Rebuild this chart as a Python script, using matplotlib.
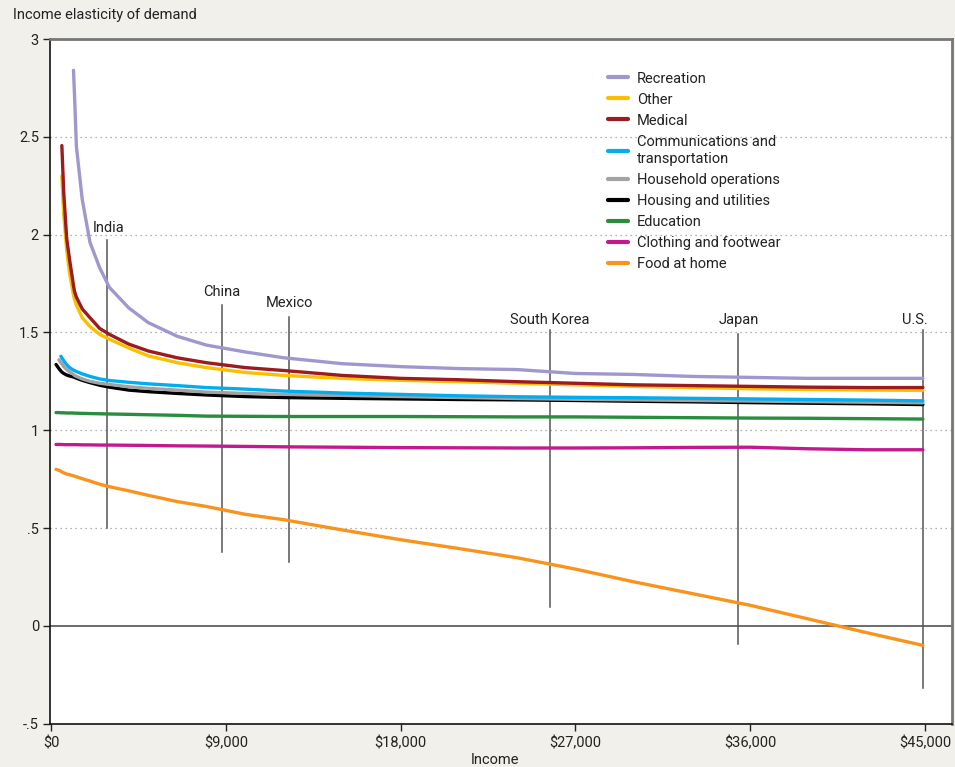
import numpy as np
import matplotlib
matplotlib.use("Agg")
import matplotlib.pyplot as plt
from matplotlib import font_manager

nan = np.nan
income = [250, 400, 500, 550, 650, 800, 950, 1150, 1200, 1300, 1600, 2000, 2500, 3000,
          4000, 5000, 6500, 8000, 10000, 12000, 15000, 18000, 21000, 24000, 27000,
          30000, 33000, 36000, 39000, 42000, 44900]

recreation = [nan, nan, nan, nan, nan, nan, nan, 2.84, 2.72, 2.45, 2.18, 1.96, 1.83, 1.73,
              1.625, 1.55, 1.48, 1.435, 1.40, 1.37, 1.34, 1.325, 1.315, 1.31, 1.29,
              1.285, 1.275, 1.27, 1.265, 1.265, 1.265]
other = [nan, nan, nan, 2.30, 2.10, 1.92, 1.80, 1.69, 1.67, 1.64, 1.575, 1.53, 1.49, 1.465,
         1.42, 1.38, 1.345, 1.32, 1.295, 1.28, 1.265, 1.255, 1.248, 1.24, 1.232,
         1.224, 1.218, 1.212, 1.208, 1.205, 1.204]
medical = [nan, nan, nan, 2.455, 2.21, 1.98, 1.87, 1.74, 1.71, 1.68, 1.62, 1.575, 1.52, 1.49,
           1.44, 1.405, 1.37, 1.345, 1.32, 1.305, 1.28, 1.265, 1.258, 1.248, 1.24,
           1.232, 1.228, 1.224, 1.22, 1.218, 1.218]
communications = [nan, nan, 1.378, 1.37, 1.355, 1.335, 1.32, 1.307, 1.305, 1.30, 1.288, 1.275,
                  1.262, 1.254, 1.245, 1.237, 1.228, 1.218, 1.21, 1.20, 1.19, 1.183, 1.176,
                  1.171, 1.168, 1.166, 1.163, 1.16, 1.157, 1.154, 1.15]
household = [nan, 1.36, 1.345, 1.34, 1.325, 1.31, 1.298, 1.285, 1.28, 1.275, 1.262, 1.25,
             1.24, 1.234, 1.222, 1.214, 1.205, 1.195, 1.188, 1.183, 1.178, 1.172, 1.167,
             1.162, 1.158, 1.155, 1.152, 1.149, 1.146, 1.143, 1.14]
housing = [1.336, 1.315, 1.303, 1.297, 1.29, 1.282, 1.277, 1.272, 1.27, 1.266, 1.255, 1.243,
           1.23, 1.22, 1.205, 1.197, 1.188, 1.18, 1.172, 1.167, 1.163, 1.16, 1.157,
           1.155, 1.152, 1.148, 1.145, 1.141, 1.138, 1.135, 1.131]
education = [1.09, 1.09, 1.089, 1.089, 1.089, 1.088, 1.088, 1.088, 1.087, 1.087, 1.086, 1.085,
             1.084, 1.083, 1.081, 1.079, 1.076, 1.072, 1.071, 1.07, 1.07, 1.07, 1.069,
             1.068, 1.068, 1.066, 1.064, 1.062, 1.061, 1.059, 1.057]
clothing = [0.927, 0.927, 0.927, 0.927, 0.926, 0.926, 0.926, 0.926, 0.926, 0.926, 0.925, 0.925,
            0.924, 0.924, 0.923, 0.922, 0.92, 0.919, 0.917, 0.915, 0.913, 0.911, 0.91,
            0.909, 0.909, 0.91, 0.912, 0.913, 0.905, 0.90, 0.90]
food = [0.80, 0.795, 0.79, 0.787, 0.782, 0.776, 0.772, 0.767, 0.765, 0.762, 0.752, 0.74,
        0.724, 0.711, 0.69, 0.667, 0.635, 0.61, 0.57, 0.542, 0.49, 0.44, 0.395, 0.348,
        0.29, 0.225, 0.165, 0.105, 0.035, -0.035, -0.10]

labels = ["Recreation", "Other", "Medical", "Communications and\ntransportation",
          "Household operations", "Housing and utilities", "Education",
          "Clothing and footwear", "Food at home"]
colors = ["#9e98cd", "#f9c000", "#9b1b1f", "#00aeef", "#a2a2a4", "#000000",
          "#2a8d3d", "#c2198f", "#f7941d"]
series = [recreation, other, medical, communications, household, housing,
          education, clothing, food]

countries = ["India", "China", "Mexico", "South Korea", "Japan", "U.S."]
country_income = [2900, 8800, 12250, 25700, 35400, 44900]
line_top = [1.97, 1.64, 1.58, 1.51, 1.49, 1.51]
line_bottom = [0.50, 0.376, 0.325, 0.095, -0.095, -0.32]
label_y = [2.035, 1.708, 1.652, 1.565, 1.565, 1.565]
label_x = [2950, 8800, 12250, 25700, 35400, 44500]

xticks = [0, 9000, 18000, 27000, 36000, 45000]
xticklabels = ["$0", "$9,000", "$18,000", "$27,000", "$36,000", "$45,000"]
yticks = [-0.5, 0, 0.5, 1, 1.5, 2, 2.5, 3]
yticklabels = ["-.5", "0", ".5", "1", "1.5", "2", "2.5", "3"]

avail = {f.name for f in font_manager.fontManager.ttflist}
fam = "Liberation Sans Narrow" if "Liberation Sans Narrow" in avail else "Roboto"
plt.rcParams['font.family'] = [fam, 'DejaVu Sans']
FS = 10.5

fig = plt.figure(figsize=(9.55, 7.67), dpi=100)
fig.patch.set_facecolor("#f1f0eb")
ax = fig.add_axes([50/955, 1-723.6/767, 902/955, (723.6-39)/767])
ax.set_facecolor("white")
ax.set_xlim(-60, 46400)
ax.set_ylim(-0.5, 3)

for y in [0.5, 1, 1.5, 2, 2.5]:
    ax.axhline(y, color="#999999", lw=0.9, ls=(0, (1, 3)), zorder=1)
ax.axhline(0, color="#6b6b6b", lw=1.4, zorder=1)

for xc, t, b in zip(country_income, line_top, line_bottom):
    ax.plot([xc, xc], [b, t], color="#555555", lw=1.1, zorder=2)
for name, lx, ly in zip(countries, label_x, label_y):
    ax.text(lx, ly, name, ha="center", va="center", fontsize=FS, color="#222222", zorder=3)

draw_order = [8, 7, 6, 5, 4, 3, 1, 2, 0]
handles = {}
for i in draw_order:
    h, = ax.plot(income, series[i], color=colors[i], lw=2.4, solid_capstyle="round", zorder=4)
    handles[i] = h

leg = ax.legend([handles[i] for i in range(9)], labels, loc="upper left",
                bbox_to_anchor=(0.612, 0.961), frameon=False, fontsize=FS,
                handlelength=1.35, handletextpad=0.65, labelspacing=0.48,
                borderaxespad=0)
for t in leg.get_texts():
    t.set_color("#222222")
    t.set_linespacing(1.35)
for l in leg.get_lines():
    l.set_linewidth(3)

ax.set_xticks(xticks)
ax.set_xticklabels(xticklabels)
ax.set_yticks(yticks)
ax.set_yticklabels(yticklabels)
ax.tick_params(axis="both", direction="out", length=5, width=1, labelsize=FS,
               colors="#222222", pad=3)
ax.tick_params(axis="x", pad=4)

for side in ["left", "bottom"]:
    ax.spines[side].set_color("#111111")
    ax.spines[side].set_linewidth(1.2)
for side in ["top", "right"]:
    ax.spines[side].set_color("#777777")
    ax.spines[side].set_linewidth(2.0)

fig.text(13/955, 1-15/767, "Income elasticity of demand", ha="left", va="center",
         fontsize=FS, color="#222222")
fig.text(495/955, 1-760/767, "Income", ha="center", va="center", fontsize=FS,
         color="#222222")

fig.savefig("out.png", dpi=100, facecolor=fig.get_facecolor())
